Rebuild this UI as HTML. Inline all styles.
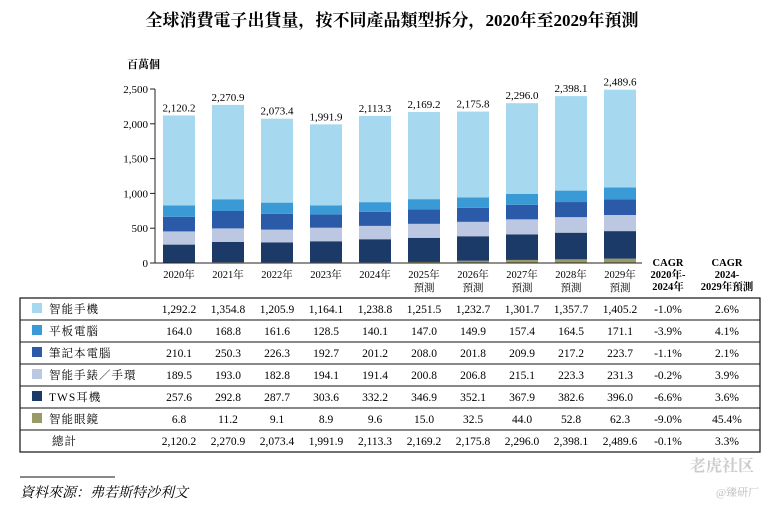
<!DOCTYPE html>
<html><head><meta charset="utf-8"><style>
body{margin:0;width:784px;height:508px;background:#fff;font-family:"Liberation Serif","Noto Serif CJK SC",serif;color:#111;overflow:hidden}
svg text{font-family:"Liberation Serif","Noto Serif CJK SC",serif}
</style></head><body>
<svg id="c" width="784" height="508">
<text x="392" y="26" text-anchor="middle" font-size="17" font-weight="bold">全球消費電子出貨量，按不同產品類型拆分，2020年至2029年預測</text>
<text x="127" y="68" font-size="11" font-weight="bold">百萬個</text>
<g id="bars"></g><g id="axis"></g><g id="table"></g>
<line x1="20" y1="477" x2="115" y2="477" stroke="#111" stroke-width="1"/>
<text x="20" y="497" font-size="14" font-style="italic">資料來源：弗若斯特沙利文</text>
<text x="690" y="471" font-size="16" fill="#ccc" font-weight="bold">老虎社区</text>
<text x="716" y="496" font-size="11" fill="#bbb">@臻研厂</text>
</svg>
<script>
const years=["2020年","2021年","2022年","2023年","2024年","2025年","2026年","2027年","2028年","2029年"];
const forecast=[false,false,false,false,false,true,true,true,true,true];
const phones=[1292.2,1354.8,1205.9,1164.1,1238.8,1251.5,1232.7,1301.7,1357.7,1405.2];
const tablets=[164.0,168.8,161.6,128.5,140.1,147.0,149.9,157.4,164.5,171.1];
const laptops=[210.1,250.3,226.3,192.7,201.2,208.0,201.8,209.9,217.2,223.7];
const watches=[189.5,193.0,182.8,194.1,191.4,200.8,206.8,215.1,223.3,231.3];
const tws=[257.6,292.8,287.7,303.6,332.2,346.9,352.1,367.9,382.6,396.0];
const glasses=[6.8,11.2,9.1,8.9,9.6,15.0,32.5,44.0,52.8,62.3];
const totals=[2120.2,2270.9,2073.4,1991.9,2113.3,2169.2,2175.8,2296.0,2398.1,2489.6];
const cagr1=["-1.0%","-3.9%","-1.1%","-0.2%","-6.6%","-9.0%","-0.1%"];
const cagr2=["2.6%","4.1%","2.1%","3.9%","3.6%","45.4%","3.3%"];
const yTicks=[0,500,1000,1500,2000,2500];
const NS="http://www.w3.org/2000/svg";
function mk(t,a,p,txt){const e=document.createElementNS(NS,t);for(const k in a)e.setAttribute(k,a[k]);if(txt!==undefined)e.textContent=txt;p.appendChild(e);return e;}
const y=v=>263-v*0.0696;
const xc=i=>179+i*49;
const bw=32;
const series=[
 {name:"智能手機",vals:phones,col:"#a6d9ef"},
 {name:"平板電腦",vals:tablets,col:"#3a9ad6"},
 {name:"筆記本電腦",vals:laptops,col:"#2a5aa8"},
 {name:"智能手錶／手環",vals:watches,col:"#bcc8e2"},
 {name:"TWS耳機",vals:tws,col:"#1c3a68"},
 {name:"智能眼鏡",vals:glasses,col:"#9a9a68"}];
const stackOrder=[5,4,3,2,1,0];
const gb=document.getElementById('bars'),ga=document.getElementById('axis'),gt=document.getElementById('table');
years.forEach((yr,i)=>{
 let base=0;
 stackOrder.forEach(si=>{const s=series[si];const v=s.vals[i];
  const r=mk('rect',{x:xc(i)-bw/2,y:y(base+v),width:bw,height:y(base)-y(base+v),fill:s.col},gb);
  
  
  base+=v;});
 const t=mk('text',{x:xc(i),y:y(totals[i])-4,'text-anchor':'middle','font-size':11},gb,totals[i].toLocaleString('en-US',{minimumFractionDigits:1}));
 
 
 const l=mk('text',{x:xc(i),y:278,'text-anchor':'middle','font-size':10.5},ga,yr);
 
 
 if(forecast[i]){const f=mk('text',{x:xc(i),y:291,'text-anchor':'middle','font-size':10.5},ga,'預測');
 
 }
});
mk('line',{x1:155,y1:y(0),x2:155,y2:y(2500),stroke:'#222'},ga);
mk('line',{x1:155,y1:y(0),x2:642,y2:y(0),stroke:'#222'},ga);
yTicks.forEach(v=>{mk('line',{x1:150,x2:155,y1:y(v),y2:y(v),stroke:'#222'},ga);
 const t=mk('text',{x:148,y:y(v)+4,'text-anchor':'end','font-size':11},ga,v.toLocaleString('en-US'));
 
 });
[[668,["CAGR","2020年-","2024年"]],[727,["CAGR","2024-","2029年預測"]]].forEach(([x,ls])=>ls.forEach((s,k)=>{
 const t=mk('text',{x:x,y:266+k*12,'text-anchor':'middle','font-size':10.5,'font-weight':'bold'},ga,s);
 
 }));
const tTop=298,rh=22;
mk('rect',{x:20,y:tTop,width:740,height:rh*7,fill:'none',stroke:'#111','stroke-width':1.2},gt);
for(let r=1;r<7;r++)mk('line',{x1:20,x2:760,y1:tTop+r*rh,y2:tTop+r*rh,stroke:'#111'},gt);
const fmt=v=>v.toLocaleString('en-US',{minimumFractionDigits:1});
const rows=series.map((s,k)=>({name:s.name,col:s.col,vals:s.vals,c1:cagr1[k],c2:cagr2[k]}));
rows.push({name:"總計",col:null,vals:totals,c1:cagr1[6],c2:cagr2[6]});
rows.forEach((r,k)=>{const cy=tTop+k*rh+rh/2+4;
 if(r.col){mk('rect',{x:32,y:cy-10,width:10,height:10,fill:r.col},gt);}
 const n=mk('text',{x:r.col?49:52,y:cy,'font-size':11.5,'letter-spacing':'1'},gt,r.name);
 
 
 r.vals.forEach((v,i)=>{const t=mk('text',{x:xc(i),y:cy,'text-anchor':'middle','font-size':11.5},gt,fmt(v));
  
  });
 [[668,r.c1],[727,r.c2]].forEach(([x,s])=>{const t=mk('text',{x:x,y:cy,'text-anchor':'middle','font-size':11.5},gt,s);
  
  });
});
</script>
</body></html>
